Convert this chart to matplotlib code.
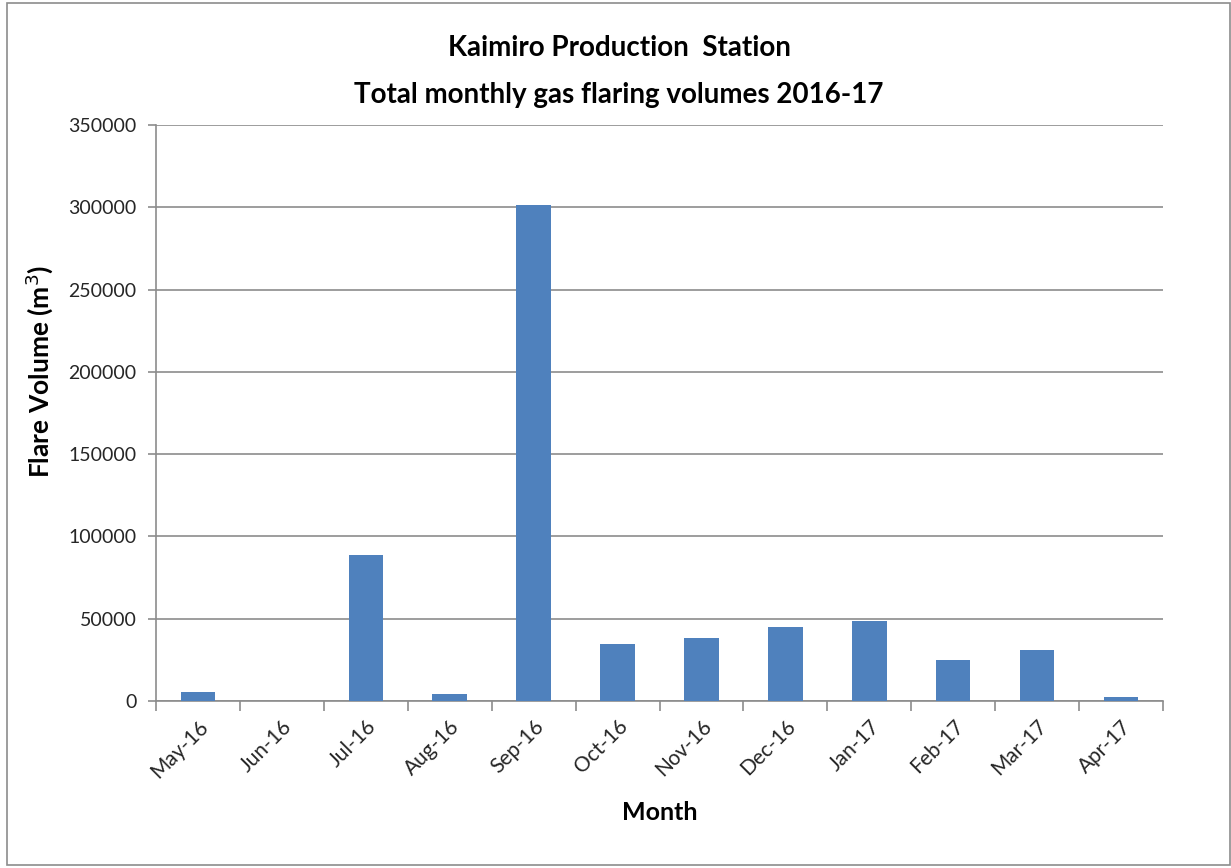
import numpy as np
import matplotlib.pyplot as plt
from matplotlib.patches import Rectangle

plt.rcParams['font.family'] = ['Lato', 'DejaVu Sans']

# Data
months = ['May-16', 'Jun-16', 'Jul-16', 'Aug-16', 'Sep-16', 'Oct-16',
          'Nov-16', 'Dec-16', 'Jan-17', 'Feb-17', 'Mar-17', 'Apr-17']
flare_volume = [5200, 0, 88700, 4200, 301500, 34800,
                38300, 45000, 48700, 25200, 30800, 2600]

bar_color = '#4F81BD'
grid_color = '#8C8C8C'
text_color = '#262626'

fig = plt.figure(figsize=(12.31, 8.68), dpi=100)
ax = fig.add_axes([0.1267, 0.1924, 0.8181, 0.6636])

x_pos = np.arange(len(months))
ax.bar(x_pos, flare_volume, width=0.41, color=bar_color, zorder=3)

ax.set_xlim(-0.5, len(months) - 0.5)
ax.set_ylim(0, 350000)
ax.set_yticks(np.arange(0, 350001, 50000))
ax.yaxis.grid(True, color=grid_color, linewidth=1.2, zorder=0)
ax.set_axisbelow(True)

# labels centred on bars, tick marks between categories
ax.set_xticks(x_pos)
ax.set_xticklabels(months, rotation=45, ha='right', rotation_mode='anchor',
                   fontsize=15, color=text_color)
ax.set_xticks(np.arange(-0.5, len(months) + 0.5, 1), minor=True)
ax.tick_params(axis='x', which='major', length=0, pad=11)
ax.tick_params(axis='x', which='minor', length=7, color=grid_color, width=1.2)
ax.tick_params(axis='y', length=6, color=grid_color, width=1.2, labelsize=14,
               labelcolor=text_color, pad=8)

for side in ['top', 'right']:
    ax.spines[side].set_visible(False)
for side in ['left', 'bottom']:
    ax.spines[side].set_color(grid_color)
    ax.spines[side].set_linewidth(1.2)

ax.set_xlabel('Month', fontsize=18, fontweight='bold', labelpad=14)
ax.set_ylabel('Flare Volume (m$^3$)', fontsize=19, fontweight='bold')
ax.yaxis.set_label_coords(-0.1, 0.573)

fig.text(0.503, 0.945, 'Kaimiro Production  Station', ha='center', va='center',
         fontsize=20, fontweight='bold')
fig.text(0.503, 0.891, 'Total monthly gas flaring volumes 2016-17', ha='center', va='center',
         fontsize=20, fontweight='bold')

# outer chart border
fig.patches.append(Rectangle((0.006, 0.003), 0.993, 0.994, transform=fig.transFigure,
                             fill=False, edgecolor='#8C8C8C', linewidth=1.2))

plt.savefig('out.png', dpi=100)
